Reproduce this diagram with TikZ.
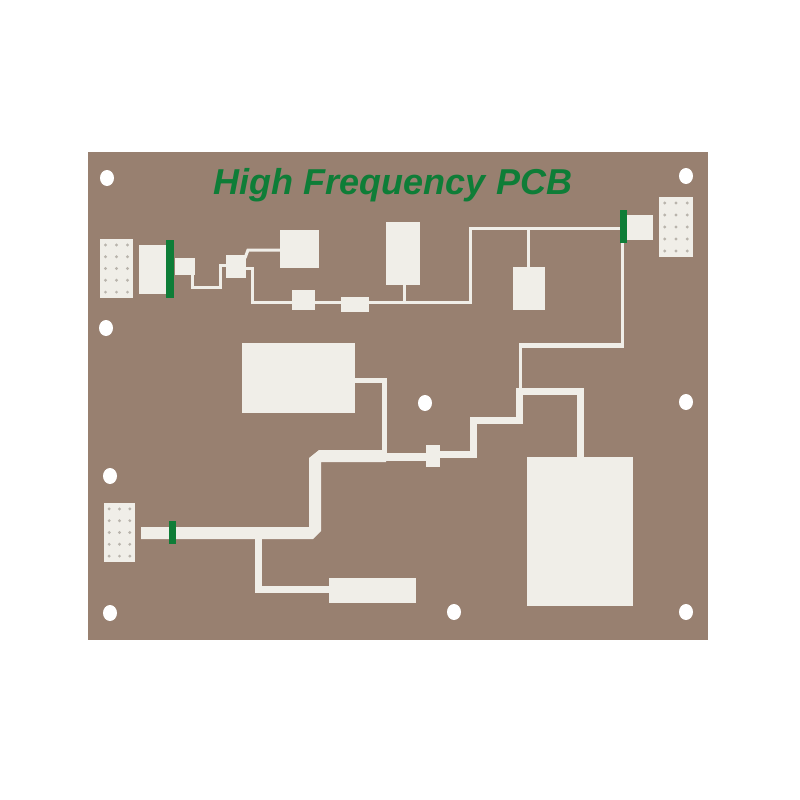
\documentclass[tikz,border=0pt]{standalone}
\usepackage{fontspec}
\setmainfont{Liberation Sans}
\definecolor{board}{RGB}{152,128,112}
\definecolor{copper}{RGB}{240,238,232}
\definecolor{mask}{RGB}{14,125,55}
\definecolor{viahole}{RGB}{185,180,172}
\tikzset{
  pad/.style={fill=copper},
  trace/.style={draw=copper,line width=3pt,line join=miter},
  hole/.style={fill=white},
  bar/.style={fill=mask}
}
\begin{document}
\begin{tikzpicture}[x=1pt,y=-1pt]
\useasboundingbox (0,0) rectangle (800,800);
\fill[white] (0,0) rectangle (800,800);
% board
\fill[board] (88,152) rectangle (708,640);
\node[text=mask,font=\bfseries\itshape\fontsize{36}{36}\selectfont] (title) at (393,185) {High Frequency PCB};
% mounting holes
\foreach \x/\y in {107/178,686/176,106/328,425/403,686/402,110/476,110/613,454/612,686/612}
  \fill[hole] (\x,\y) ellipse (7 and 8);
% vias
\foreach \x/\y/\w/\h in {100/239/33/59,659/197/34/60,104/503/31/59}{
  \fill[pad] (\x,\y) rectangle ++(\w,\h);
  \foreach \i in {0,1,2}
    \foreach \j in {0,...,4}
      \fill[viahole] (\x+\w/6+\i*\w/3,\y+\h/10+\j*\h/5) circle (1.6);
}
% top left connector
\fill[pad] (139,245) rectangle (169,294);
\fill[pad] (175,258) rectangle (195,275);
\fill[bar] (166,240) rectangle (174,298);
\draw[trace] (192,275) -- (192,287) -- (220,287) -- (220,265) -- (226,265);
\fill[pad] (226,255) rectangle (246,278);
\draw[trace] (245,258) -- (248,250) -- (281,250);
\fill[pad] (280,230) rectangle (319,268);
\draw[trace] (246,268) -- (252,268) -- (252,302) -- (470,302) -- (470,228) -- (622,228);
\fill[pad] (292,290) rectangle (315,310);
\fill[pad] (341,297) rectangle (369,312);
\fill[pad] (386,222) rectangle (420,285);
\draw[trace] (404,284) -- (404,302);
\draw[trace] (528,228) -- (528,268);
\fill[pad] (513,267) rectangle (545,310);
% top right connector
\fill[pad] (627,215) rectangle (653,240);
\fill[bar] (620,210) rectangle (627,243);
\draw[trace] (622,243) -- (622,345);
\draw[copper,line width=5pt] (623.5,345.5) -- (518.5,345.5);
\draw[trace] (520,344) -- (520,390);
% lower network
\draw[draw=copper,line width=7pt,line join=miter] (580,458) -- (580,391) -- (519,391) -- (519,420) -- (473,420) -- (473,454) -- (440,454);
\fill[pad] (527,457) rectangle (633,606);
\fill[pad] (426,445) rectangle (440,467);
\draw[draw=copper,line width=8pt] (426,457) -- (384,457);
\fill[pad] (242,343) rectangle (355,413);
\draw[draw=copper,line width=5pt,line join=miter] (354,380) -- (384,380) -- (384,460);
\fill[pad] (386,450) -- (319,450) -- (309,458) -- (309,527) -- (141,527) -- (141,539) -- (313,539) -- (321,531) -- (321,462) -- (386,462) -- cycle;
\fill[bar] (169,521) rectangle (176,544);
\draw[draw=copper,line width=7pt,line join=miter] (258,539) -- (258,589) -- (330,589);
\fill[pad] (329,578) rectangle (416,603);
\end{tikzpicture}
\end{document}
